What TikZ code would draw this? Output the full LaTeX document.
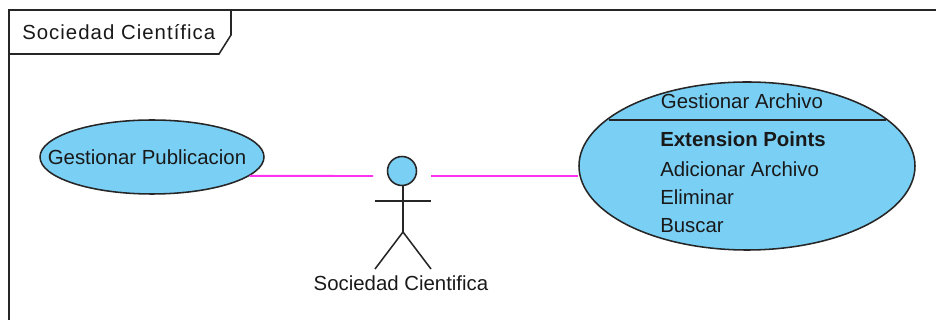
\documentclass[tikz,border=0pt]{standalone}
\usepackage{fontspec}
\setmainfont{Liberation Sans}
\usepackage{tikz}
\usetikzlibrary{positioning,shapes}
\definecolor{usecaseblue}{RGB}{122,207,245}
\definecolor{assocpink}{RGB}{255,50,240}
\newcommand{\umlfont}{\fontsize{14.5}{16}\selectfont}
\tikzset{
  usecase/.style={ellipse,draw=black!85,fill=usecaseblue,line width=1.1pt,inner sep=0pt},
  umlline/.style={draw=black!85,line width=1.1pt},
  assoc/.style={draw=assocpink,line width=1.4pt},
  umltext/.style={font=\umlfont,text=black!90,inner sep=0pt},
  extitem/.style={umltext,text height=10pt,text depth=3pt,anchor=west}
}
\begin{document}
\begin{tikzpicture}[x=0.025cm,y=-0.025cm]
\useasboundingbox (0,0) rectangle (936,320);
\coordinate (frameTL) at (9,10);
\coordinate (frameTR) at (936,10);
\coordinate (frameBL) at (9,320);
\draw[umlline] (frameTR) -- (frameTL) -- (frameBL);
\draw[umlline] (frameTL) -- (231,10) -- (231,35) -- (219,54) -- (9,54);
\node[umltext,anchor=west] (framename) at (22,32) {\addfontfeature{LetterSpace=5}Sociedad Científica};

\node[usecase,minimum width=224*0.025cm,minimum height=74*0.025cm] (publicacion) at (152,157) {};
\node[umltext] (publicacionname) at (147,157) {Gestionar Publicacion};

\node[usecase,minimum width=336*0.025cm,minimum height=168*0.025cm] (archivo) at (747,166) {};
\coordinate (sepL) at (609,120);
\coordinate (sepR) at (886,120);
\draw[umlline] (sepL) -- (sepR);
\node[umltext] (archivoname) at (742,101) {Gestionar Archivo};
\node[extitem,font=\umlfont\bfseries] (extpoints) at (660,142) {Extension Points};
\node[extitem,below=10.5*0.025cm of extpoints.south west,anchor=north west] (adicionar) {Adicionar Archivo};
\node[extitem,below=9*0.025cm of adicionar.south west,anchor=north west] (eliminar) {Eliminar};
\node[extitem,below=9.5*0.025cm of eliminar.south west,anchor=north west] (buscar) {Buscar};

\node[circle,draw=black!85,fill=usecaseblue,line width=1.1pt,minimum size=29*0.025cm,inner sep=0pt] (head) at (402,171) {};
\coordinate (hip) at (403,232);
\coordinate (armL) at (375,201);
\coordinate (armR) at (431,201);
\coordinate (footL) at (375,269);
\coordinate (footR) at (431,269);
\draw[umlline] (head) ++(1,14) -- (hip);
\draw[umlline] (armL) -- (armR);
\draw[umlline] (footL) -- (hip) -- (footR);
\node[umltext] (actorname) at (401,283) {Sociedad Cientifica};

\coordinate (actorL) at (373,176);
\coordinate (actorR) at (431,176);
\draw[assoc] (publicacion.-11) -- (actorL);
\draw[assoc] (actorR) -- (actorR -| archivo.west);
\end{tikzpicture}
\end{document}
